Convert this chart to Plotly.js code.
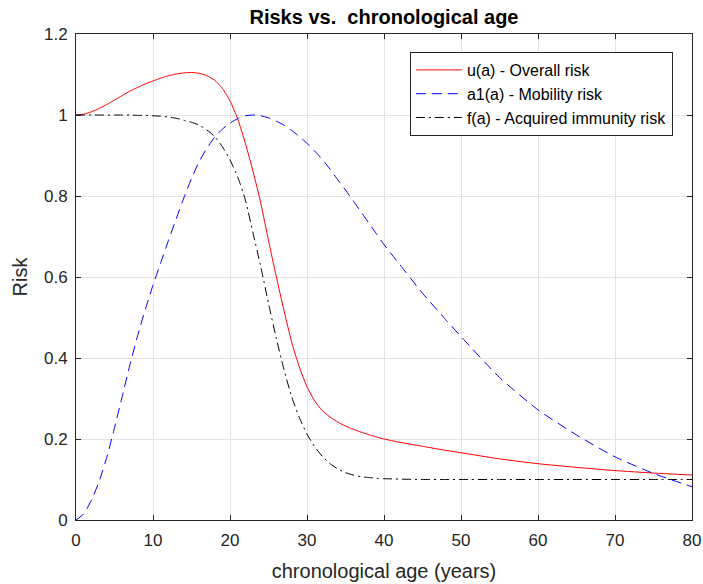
<!DOCTYPE html>
<html>
<head>
<meta charset="utf-8">
<script src="https://cdn.plot.ly/plotly-3.0.1.min.js"></script>
<style>html,body{margin:0;padding:0;background:#fff;}#chart{width:703px;height:584px;}</style>
</head>
<body>
<div id="chart"></div>
<script>
const ages = [0,1,2,3,4,5,6,7,8,9,10,11,12,13,14,15,16,17,18,19,20,21,22,23,24,25,26,27,28,29,30,31,32,33,34,35,36,37,38,39,40,42,45,48,50,55,60,65,70,75,80];
const overallRisk = [1.0,1.002,1.008,1.016,1.026,1.037,1.048,1.059,1.068,1.077,1.084,1.091,1.097,1.101,1.104,1.105,1.103,1.097,1.086,1.066,1.035,0.99,0.93,0.86,0.782,0.69,0.602,0.518,0.44,0.378,0.329,0.294,0.27,0.254,0.242,0.232,0.224,0.217,0.211,0.205,0.2,0.192,0.182,0.172,0.166,0.151,0.139,0.13,0.122,0.116,0.111];
const mobilityRisk = [0,0.015,0.049,0.095,0.155,0.228,0.305,0.383,0.455,0.52,0.58,0.635,0.69,0.743,0.795,0.843,0.885,0.918,0.945,0.965,0.98,0.991,0.998,1.0,0.998,0.993,0.985,0.975,0.962,0.947,0.93,0.911,0.89,0.866,0.84,0.815,0.788,0.761,0.734,0.707,0.68,0.632,0.56,0.495,0.453,0.352,0.272,0.21,0.156,0.115,0.082];
const immunityRisk = [1.0,1.0,1.0,1.0,1.0,1.0,1.0,1.0,0.999,0.999,0.998,0.997,0.995,0.992,0.987,0.982,0.975,0.963,0.947,0.922,0.889,0.847,0.79,0.708,0.625,0.535,0.45,0.372,0.305,0.253,0.212,0.181,0.157,0.139,0.126,0.117,0.111,0.107,0.105,0.103,0.102,0.101,0.1,0.1,0.1,0.1,0.1,0.1,0.1,0.1,0.1];
const seriesNames = ["u(a) - Overall risk","a1(a) - Mobility risk","f(a) - Acquired immunity risk"];
const xTicks = [0,10,20,30,40,50,60,70,80];
const yTicks = [0,0.2,0.4,0.6,0.8,1,1.2];

const font = "Liberation Sans, Arial, Helvetica, sans-serif";
const traces = [
  {x: ages, y: overallRisk, name: seriesNames[0], mode: "lines", line: {color: "#ff0000", width: 1, shape: "spline", smoothing: 0.6}},
  {x: ages, y: mobilityRisk, name: seriesNames[1], mode: "lines", line: {color: "#0000ff", width: 1, dash: "10px,6px", shape: "spline", smoothing: 0.6}},
  {x: ages, y: immunityRisk, name: seriesNames[2], mode: "lines", line: {color: "#000000", width: 1, dash: "9px,4px,2px,4px", shape: "spline", smoothing: 0.6}}
];
const axisCommon = {
  showline: true, linecolor: "#262626", linewidth: 1, mirror: "ticks",
  ticks: "inside", ticklen: 5, tickcolor: "#262626",
  showgrid: true, gridcolor: "#e3e3e3", gridwidth: 1, zeroline: false,
  tickfont: {family: font, size: 17, color: "#262626"}
};
const layout = {
  width: 703, height: 584,
  margin: {l: 76, r: 11, t: 34, b: 64},
  paper_bgcolor: "#ffffff", plot_bgcolor: "#ffffff",
  showlegend: true,
  title: {text: "<b>Risks vs.\u00a0 chronological age</b>", font: {family: font, size: 20, color: "#000"}, x: 0.5, xref: "paper", xanchor: "center", y: 1 - 17/584, yref: "container", yanchor: "middle"},
  xaxis: Object.assign({}, axisCommon, {range: [0, 80], tickvals: xTicks, ticktext: xTicks.map(String), ticklabelstandoff: 5,
    title: {text: "chronological age (years)", font: {family: font, size: 20, color: "#262626"}, standoff: 14}}),
  yaxis: Object.assign({}, axisCommon, {range: [0, 1.2], tickvals: yTicks, ticktext: yTicks.map(String), ticklabelstandoff: 4,
    title: {text: "Risk", font: {family: font, size: 20, color: "#262626"}, standoff: 10}}),
  legend: {x: 0.969, xanchor: "right", y: 0.963, yanchor: "top", bgcolor: "#ffffff", bordercolor: "#262626", borderwidth: 1,
    font: {family: font, size: 16, color: "#000"}, tracegroupgap: 0, itemwidth: 46}
};
Plotly.newPlot("chart", traces, layout, {displayModeBar: false, staticPlot: true});
</script>
</body>
</html>
